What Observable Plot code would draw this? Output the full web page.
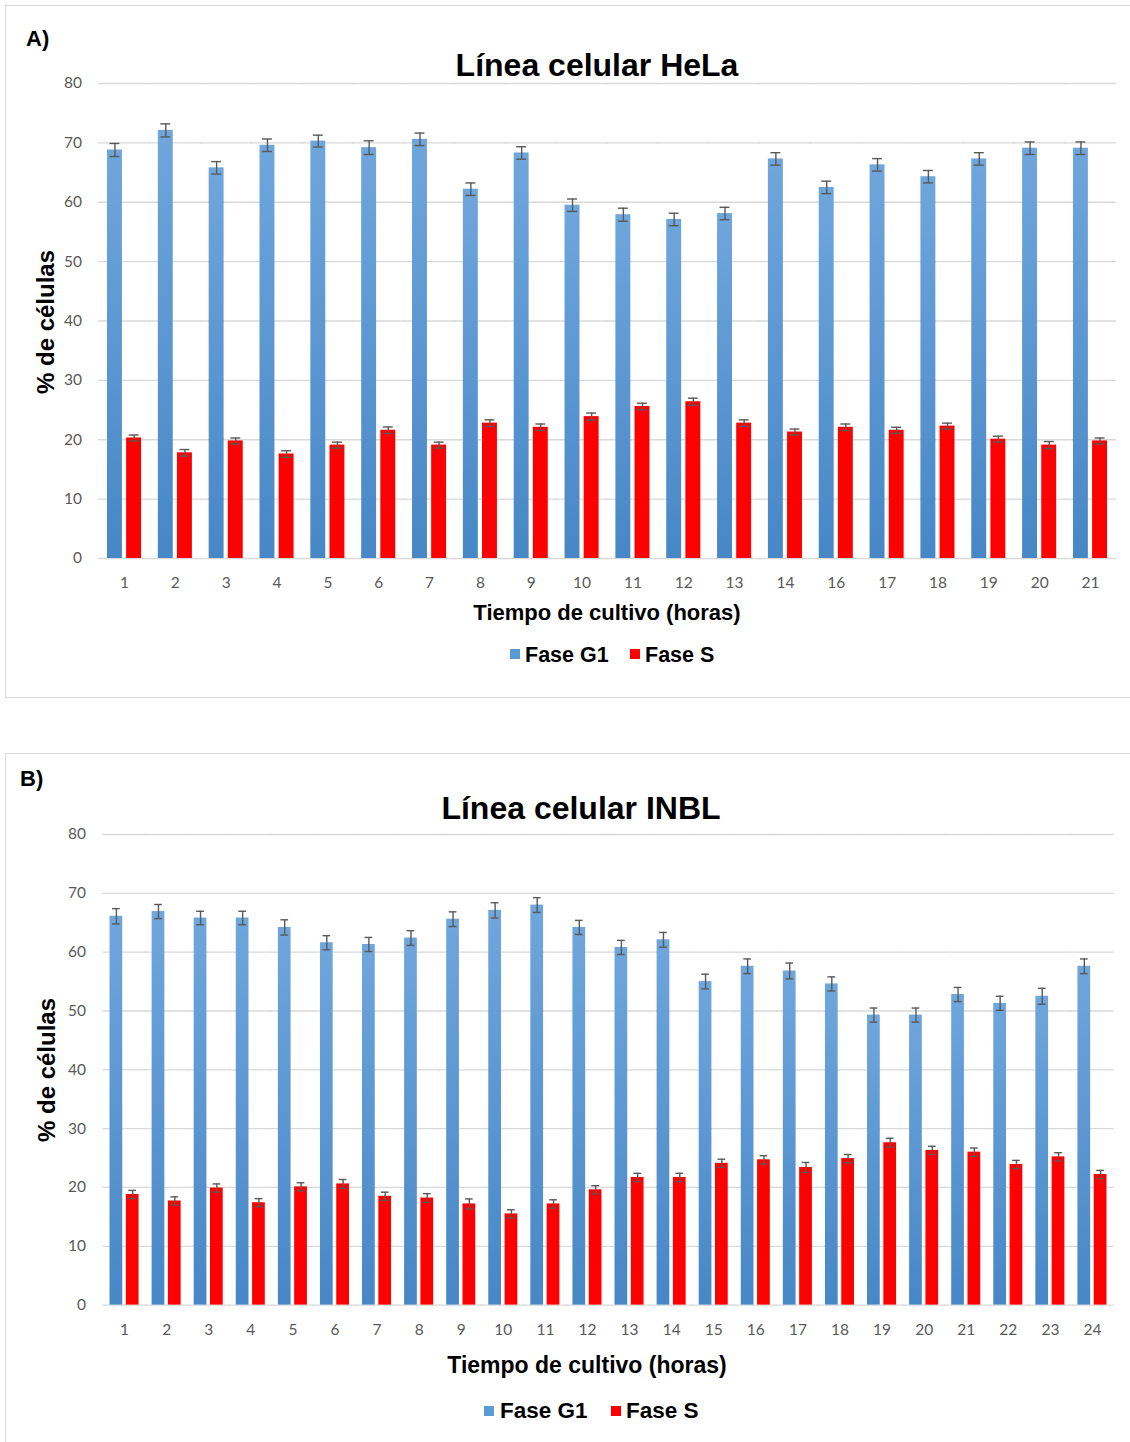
<!DOCTYPE html>
<html><head><meta charset="utf-8">
<script src="https://cdn.jsdelivr.net/npm/d3@7"></script>
<script src="https://cdn.jsdelivr.net/npm/@observablehq/plot@0.6"></script>
<style>
body{margin:0;background:#fff;}
#page{position:relative;width:1130px;height:1442px;overflow:hidden;background:#fff;}
.box{position:absolute;border:1px solid #d9d9d9;box-sizing:border-box;}
.plot{position:absolute;left:0;}
#overlay{position:absolute;left:0;top:0;}
</style></head><body><div id="page"></div>
<script>
// ---------- data ----------
const seriesNames = ["Fase G1", "Fase S"];
const yTicks = [0, 10, 20, 30, 40, 50, 60, 70, 80];

// Panel A: HeLa
const helaHours = ["1","2","3","4","5","6","7","8","9","10","11","12","13","14","16","17","18","19","20","21"];
const helaG1    = [68.8, 72.1, 65.8, 69.6, 70.3, 69.2, 70.6, 62.2, 68.3, 59.5, 57.9, 57.1, 58.1, 67.3, 62.5, 66.3, 64.3, 67.3, 69.1, 69.1];
const helaG1Err = [1.1, 1.1, 1.05, 1.05, 1.0, 1.15, 1.05, 1.05, 1.05, 1.05, 1.1, 1.05, 1.05, 1.05, 1.05, 1.05, 1.05, 1.05, 1.05, 1.05];
const helaS     = [20.3, 17.8, 19.8, 17.6, 19.1, 21.6, 19.1, 22.8, 22.1, 23.9, 25.6, 26.4, 22.8, 21.3, 22.1, 21.6, 22.3, 20.1, 19.1, 19.8];
const helaSErr  = [0.5, 0.55, 0.5, 0.55, 0.5, 0.55, 0.5, 0.55, 0.55, 0.6, 0.55, 0.6, 0.55, 0.5, 0.55, 0.5, 0.5, 0.5, 0.6, 0.5];

// Panel B: INBL
const inblHours = ["1","2","3","4","5","6","7","8","9","10","11","12","13","14","15","16","17","18","19","20","21","22","23","24"];
const inblG1    = [66.1, 66.9, 65.8, 65.8, 64.2, 61.6, 61.3, 62.4, 65.6, 67.1, 68.0, 64.2, 60.8, 62.1, 55.0, 57.6, 56.8, 54.6, 49.3, 49.3, 52.8, 51.3, 52.5, 57.6];
const inblG1Err = [1.3, 1.2, 1.15, 1.15, 1.3, 1.2, 1.2, 1.25, 1.25, 1.3, 1.25, 1.2, 1.2, 1.25, 1.25, 1.25, 1.35, 1.2, 1.2, 1.2, 1.2, 1.2, 1.35, 1.25];
const inblS     = [18.8, 17.7, 19.9, 17.4, 20.1, 20.6, 18.5, 18.2, 17.2, 15.5, 17.2, 19.6, 21.7, 21.7, 24.1, 24.7, 23.4, 24.9, 27.6, 26.3, 26.0, 23.9, 25.2, 22.2];
const inblSErr  = [0.7, 0.7, 0.7, 0.7, 0.7, 0.75, 0.7, 0.75, 0.85, 0.7, 0.7, 0.7, 0.7, 0.7, 0.7, 0.7, 0.85, 0.7, 0.75, 0.7, 0.7, 0.7, 0.7, 0.7];

const panelLetters = ["A)", "B)"];
const titles = ["Línea celular HeLa", "Línea celular INBL"];
const yTitle = "% de células";
const xTitle = "Tiempo de cultivo (horas)";

// ---------- build ----------
function rows(hours, g1, g1e, s, se) {
  return hours.flatMap((h, i) => [
    {hour: h, series: seriesNames[0], value: g1[i], err: g1e[i]},
    {hour: h, series: seriesNames[1], value: s[i], err: se[i]}
  ]);
}

function chart(cfg) {
  const gid = cfg.gid;
  const step = (1130 - cfg.ml - cfg.mr) / cfg.hours.length;
  const gapHalf = step * cfg.fxPad / 2 + 0.6; // grid segments meet between facets
  const firstFacetLeft = cfg.ml + gapHalf - 0.6;
  const svg = Plot.plot({
    width: 1130,
    height: cfg.height,
    marginLeft: cfg.ml,
    marginRight: cfg.mr,
    marginTop: 10,
    marginBottom: cfg.height - 10 - cfg.plotH,
    style: {fontFamily: "Lato, 'Open Sans', sans-serif", fontSize: "15.5px", color: "#595959", background: "transparent"},
    fx: {domain: cfg.hours, paddingInner: cfg.fxPad, paddingOuter: cfg.fxPad / 2, round: false, label: null},
    x: {domain: seriesNames, paddingInner: 0.22, paddingOuter: 0, round: false, axis: null},
    y: {domain: [0, 80], label: null},
    color: {domain: seriesNames, range: [`url(#${gid})`, "#ff0000"]},
    marks: [
      Plot.gridY(yTicks, {stroke: "#d9d9d9", strokeOpacity: 1, strokeWidth: 1.3, insetLeft: -gapHalf, insetRight: -gapHalf}),
      Plot.axisY(yTicks, {tickSize: 0, tickPadding: firstFacetLeft - cfg.labelRight, label: null}),
      Plot.axisFx({anchor: "bottom", tickSize: 0, tickPadding: cfg.padX, label: null}),
      Plot.barY(cfg.data, {fx: "hour", x: "series", y: "value", fill: "series"}),
      Plot.ruleX(cfg.data, {fx: "hour", x: "series", y1: d => d.value - d.err, y2: d => d.value + d.err, stroke: "#595959", strokeWidth: 1.4}),
      Plot.tickY(cfg.data, {fx: "hour", x: "series", y: d => d.value + d.err, inset: 2.5, stroke: "#595959", strokeWidth: 1.4}),
      Plot.tickY(cfg.data, {fx: "hour", x: "series", y: d => d.value - d.err, inset: 2.5, stroke: "#595959", strokeWidth: 1.4})
    ]
  });
  const ns = "http://www.w3.org/2000/svg";
  const defs = document.createElementNS(ns, "defs");
  defs.innerHTML = `<linearGradient id="${gid}" x1="0" y1="0" x2="0" y2="1">
    <stop offset="0" stop-color="#6fa6dc"/><stop offset="1" stop-color="#4787c6"/></linearGradient>`;
  svg.insertBefore(defs, svg.firstChild);
  svg.classList.add("plot");
  svg.style.top = cfg.top + "px";
  return svg;
}

const page = document.getElementById("page");
function box(l, t, w, h) {
  const d = document.createElement("div");
  d.className = "box";
  Object.assign(d.style, {left: l + "px", top: t + "px", width: w + "px", height: h + "px"});
  page.appendChild(d);
}
box(5, 5, 1140, 693);
box(5, 753, 1140, 720);

page.appendChild(chart({
  gid: "gradA", hours: helaHours, data: rows(helaHours, helaG1, helaG1Err, helaS, helaSErr),
  top: 73.3, height: 540, plotH: 475, ml: 98.6, mr: 14.6, fxPad: 0.33, labelRight: 81.5, padX: 18
}));
page.appendChild(chart({
  gid: "gradB", hours: inblHours, data: rows(inblHours, inblG1, inblG1Err, inblS, inblSErr),
  top: 823.7, height: 536, plotH: 470.6, ml: 103, mr: 17, fxPad: 0.31, labelRight: 85.5, padX: 19
}));

// ---------- annotations ----------
const B = "font-family:'Liberation Sans',Arial,sans-serif;font-weight:bold;fill:#000";
const ann = [
  {letter: [26, 46, 22], title: [597, 76, 32], yt: [54, 322, 24], xt: [607, 620, 22],
   leg: {y: 662, size: 21.5, sq: [[510, 649], [630, 649]], tx: [525, 645]}},
  {letter: [20, 786, 22], title: [581, 819, 32], yt: [55, 1070, 24], xt: [587, 1373, 23],
   leg: {y: 1418, size: 22.5, sq: [[484, 1406], [611, 1406]], tx: [500, 626]}}
];
const colors = ["#5b9bd5", "#ff0000"];
let s = `<svg id="overlay" width="1130" height="1442" xmlns="http://www.w3.org/2000/svg">`;
ann.forEach((a, i) => {
  s += `<text x="${a.letter[0]}" y="${a.letter[1]}" style="${B};font-size:${a.letter[2]}px">${panelLetters[i]}</text>`;
  s += `<text x="${a.title[0]}" y="${a.title[1]}" text-anchor="middle" style="${B};font-size:${a.title[2]}px">${titles[i]}</text>`;
  s += `<text transform="translate(${a.yt[0]},${a.yt[1]}) rotate(-90)" text-anchor="middle" style="${B};font-size:${a.yt[2]}px">${yTitle}</text>`;
  s += `<text x="${a.xt[0]}" y="${a.xt[1]}" text-anchor="middle" style="${B};font-size:${a.xt[2]}px">${xTitle}</text>`;
  seriesNames.forEach((n, j) => {
    s += `<rect x="${a.leg.sq[j][0]}" y="${a.leg.sq[j][1]}" width="10" height="10" fill="${colors[j]}"/>`;
    s += `<text x="${a.leg.tx[j]}" y="${a.leg.y}" style="${B};font-size:${a.leg.size}px">${n}</text>`;
  });
});
s += `</svg>`;
page.insertAdjacentHTML("beforeend", s);
</script>
</body></html>
